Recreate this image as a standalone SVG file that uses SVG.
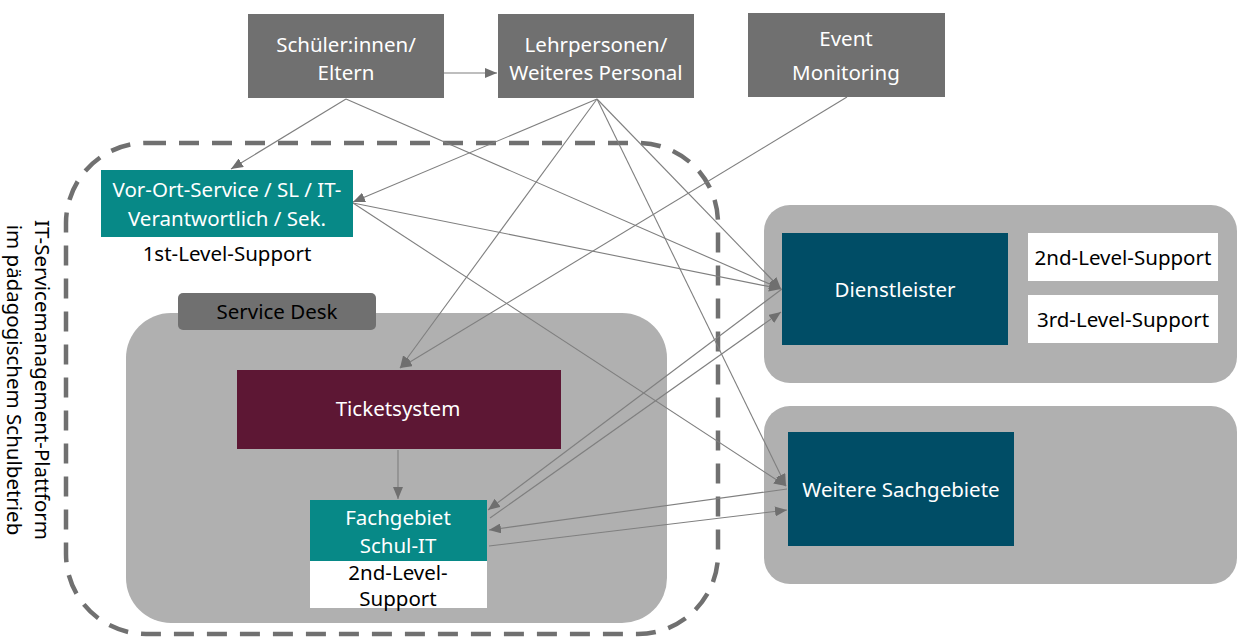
<svg xmlns="http://www.w3.org/2000/svg" width="1237" height="639" viewBox="0 0 1237 639">
<defs>
<style>
.t{font-family:"Noto Sans","Open Sans","Liberation Sans",sans-serif;font-size:20.5px;text-anchor:middle}
.w{fill:#ffffff}
.k{fill:#000000}
.dg{fill:#707070}
.lg{fill:#b0b0b0}
.teal{fill:#078987}
.navy{fill:#004d66}
.wine{fill:#5d1734}
.c{stroke:#7f7f7f;stroke-width:1.1;fill:none;marker-end:url(#ah)}
</style>
<marker id="ah" viewBox="0 0 12 10" refX="12" refY="5" markerWidth="12" markerHeight="10" markerUnits="userSpaceOnUse" orient="auto">
<path d="M0,0 L12,5 L0,10 Z" fill="#6f6f6f"/>
</marker>
</defs>
<rect width="1237" height="639" fill="#ffffff"/>

<g id="platform">
<rect x="66" y="143" width="652" height="491" rx="80" ry="80" fill="none" stroke="#707070" stroke-width="4.5" stroke-dasharray="20 13"/>
<text class="t k" transform="translate(42,380) rotate(90)" dy="7">IT-Servicemanagement-Plattform</text>
<text class="t k" transform="translate(14,380) rotate(90)" dy="7">im pädagogischem Schulbetrieb</text>
</g>

<g id="service-desk">
<rect x="126" y="313" width="541" height="310" rx="45" ry="45" class="lg"/>
<rect x="178" y="293" width="198" height="37" rx="5" ry="5" class="dg"/>
<text class="t k" x="277" y="319">Service Desk</text>
</g>

<g id="group-dienstleister">
<rect x="764" y="205" width="473" height="178" rx="26" ry="26" class="lg"/>
</g>
<g id="group-weitere">
<rect x="764" y="406" width="473" height="178" rx="26" ry="26" class="lg"/>
</g>

<g id="connectors">
<line class="c" x1="444" y1="73" x2="497" y2="73"/>
<line class="c" x1="346" y1="99" x2="231" y2="169"/>
<line class="c" x1="346" y1="99" x2="781" y2="289"/>
<line class="c" x1="597" y1="99" x2="353" y2="202"/>
<line class="c" x1="597" y1="99" x2="400" y2="368"/>
<line class="c" x1="597" y1="99" x2="781" y2="289"/>
<line class="c" x1="597" y1="99" x2="786" y2="486"/>
<line class="c" x1="847" y1="97" x2="400" y2="368"/>
<line class="c" x1="353" y1="203" x2="781" y2="289"/>
<line class="c" x1="353" y1="203" x2="786" y2="486"/>
<line class="c" x1="398" y1="450" x2="398" y2="499"/>
<line class="c" x1="782" y1="289" x2="488" y2="510"/>
<line class="c" x1="490" y1="518" x2="781" y2="312"/>
<line class="c" x1="787" y1="489" x2="489" y2="530"/>
<line class="c" x1="489" y1="546" x2="787" y2="510"/>
</g>

<g id="schueler">
<rect x="248" y="14" width="196" height="84" class="dg"/>
<text class="t w" x="346" y="52">Schüler:innen/</text>
<text class="t w" x="346" y="80">Eltern</text>
</g>

<g id="lehrpersonen">
<rect x="498" y="14" width="196" height="84" class="dg"/>
<text class="t w" x="596" y="52">Lehrpersonen/</text>
<text class="t w" x="596" y="80">Weiteres Personal</text>
</g>

<g id="event-monitoring">
<rect x="748" y="13" width="197" height="84" class="dg"/>
<text class="t w" x="846" y="46">Event</text>
<text class="t w" x="846" y="80">Monitoring</text>
</g>

<g id="vor-ort">
<rect x="101" y="170" width="252" height="67" class="teal"/>
<text class="t w" x="227" y="197">Vor-Ort-Service / SL / IT-</text>
<text class="t w" x="227" y="226">Verantwortlich / Sek.</text>
<text class="t k" x="227" y="261">1st-Level-Support</text>
</g>

<g id="ticketsystem">
<rect x="237" y="370" width="324" height="79" class="wine"/>
<text class="t w" x="398" y="416">Ticketsystem</text>
</g>

<g id="fachgebiet">
<rect x="310" y="500" width="177" height="61" class="teal"/>
<rect x="310" y="561" width="177" height="47" fill="#ffffff"/>
<text class="t w" x="398" y="525">Fachgebiet</text>
<text class="t w" x="398" y="553">Schul-IT</text>
<text class="t k" x="398" y="580">2nd-Level-</text>
<text class="t k" x="398" y="606">Support</text>
</g>

<g id="dienstleister">
<rect x="782" y="233" width="226" height="112" class="navy"/>
<text class="t w" x="895" y="297">Dienstleister</text>
</g>

<g id="second-level">
<rect x="1028" y="233" width="190" height="48" fill="#ffffff"/>
<text class="t k" x="1123" y="265">2nd-Level-Support</text>
</g>

<g id="third-level">
<rect x="1028" y="295" width="190" height="48" fill="#ffffff"/>
<text class="t k" x="1123" y="327">3rd-Level-Support</text>
</g>

<g id="weitere">
<rect x="788" y="432" width="226" height="114" class="navy"/>
<text class="t w" x="901" y="497">Weitere Sachgebiete</text>
</g>
</svg>
